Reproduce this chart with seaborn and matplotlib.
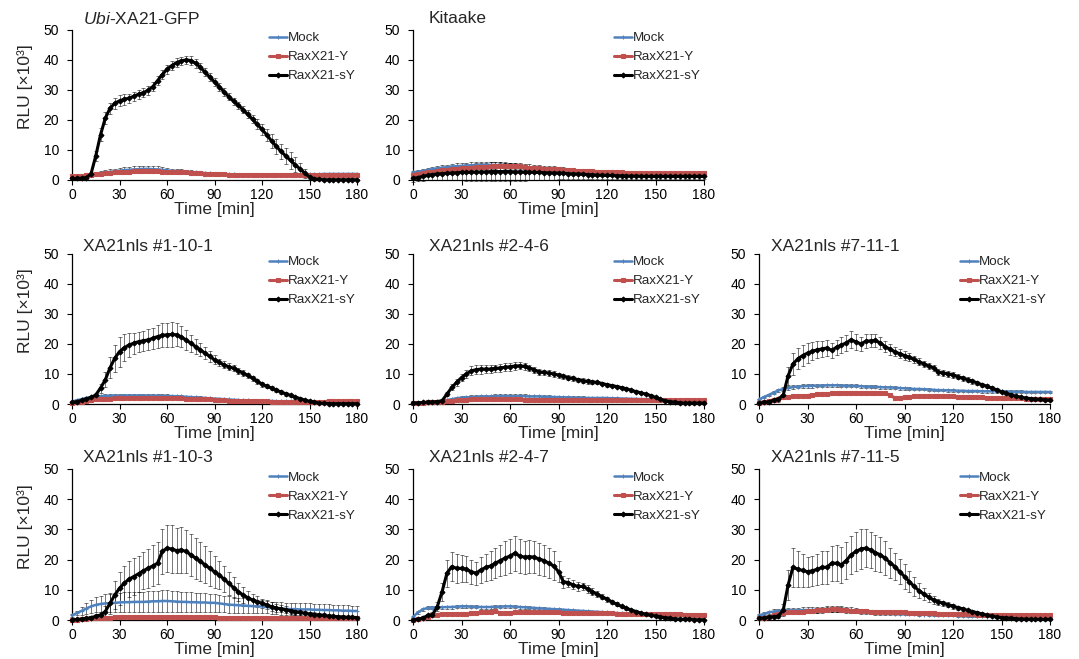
"""
ROS burst time courses (RaxX21 peptides) - 8 small panels in a 3x3 grid
"""

import numpy as np
import pandas as pd
import matplotlib
matplotlib.use('Agg')
import matplotlib.pyplot as plt
import seaborn as sns

# time points [min], one reading every 3 min
minutes = [0, 3, 6, 9, 12, 15, 18, 21, 24, 27,
           30, 33, 36, 39, 42, 45, 48, 51, 54, 57,
           60, 63, 66, 69, 72, 75, 78, 81, 84, 87,
           90, 93, 96, 99, 102, 105, 108, 111, 114, 117,
           120, 123, 126, 129, 132, 135, 138, 141, 144, 147,
           150, 153, 156, 159, 162, 165, 168, 171, 174, 177,
           180]

series_names = ['Mock', 'RaxX21-Y', 'RaxX21-sY']
panel_titles = [r'$\mathit{Ubi}$-XA21-GFP', 'Kitaake',
                'XA21nls #1-10-1', 'XA21nls #2-4-6', 'XA21nls #7-11-1',
                'XA21nls #1-10-3', 'XA21nls #2-4-7', 'XA21nls #7-11-5']

# ---- Ubi-XA21-GFP ----
ubi_mock = [1.0, 1.1, 1.2, 1.3, 1.6, 2.0, 2.3, 2.5, 2.7, 2.9,
            3.1, 3.3, 3.4, 3.5, 3.6, 3.7, 3.7, 3.6, 3.5, 3.4,
            3.2, 3.0, 2.9, 2.8, 2.7, 2.6, 2.5, 2.4, 2.3, 2.2,
            2.1, 2.0, 2.0, 1.9, 1.9, 1.8, 1.8, 1.8, 1.7, 1.7,
            1.7, 1.7, 1.7, 1.7, 1.8, 1.8, 1.8, 1.8, 1.8, 1.9,
            1.9, 1.9, 1.9, 2.0, 2.0, 2.0, 2.0, 2.0, 2.0, 2.0,
            2.0]
ubi_mock_err = [0.3, 0.3, 0.3, 0.4, 0.5, 0.6, 0.7, 0.8, 0.8, 0.9,
                0.9, 1.0, 1.0, 1.0, 1.0, 1.0, 1.0, 1.0, 1.0, 0.9,
                0.9, 0.8, 0.8, 0.7, 0.7, 0.6, 0.6, 0.5, 0.5, 0.5,
                0.4, 0.4, 0.4, 0.4, 0.3, 0.3, 0.3, 0.3, 0.3, 0.3,
                0.3, 0.3, 0.3, 0.3, 0.3, 0.3, 0.3, 0.3, 0.3, 0.3,
                0.3, 0.3, 0.3, 0.3, 0.3, 0.3, 0.3, 0.3, 0.3, 0.3,
                0.3]
ubi_y = [1.2, 1.2, 1.3, 1.5, 1.8, 2.0, 2.1, 2.2, 2.3, 2.5,
         2.6, 2.7, 2.8, 2.9, 3.0, 3.0, 3.0, 3.0, 2.9, 2.8,
         2.7, 2.6, 2.6, 2.5, 2.5, 2.4, 2.3, 2.2, 2.1, 2.0,
         2.0, 1.9, 1.9, 1.8, 1.8, 1.8, 1.7, 1.7, 1.7, 1.7,
         1.7, 1.6, 1.6, 1.6, 1.6, 1.7, 1.7, 1.7, 1.7, 1.7,
         1.8, 1.8, 1.8, 1.8, 1.8, 1.8, 1.8, 1.8, 1.8, 1.8,
         1.8]
ubi_y_err = [0.3, 0.3, 0.3, 0.4, 0.4, 0.5, 0.5, 0.6, 0.6, 0.6,
             0.7, 0.7, 0.7, 0.7, 0.7, 0.7, 0.7, 0.7, 0.7, 0.6,
             0.6, 0.6, 0.6, 0.5, 0.5, 0.5, 0.5, 0.4, 0.4, 0.4,
             0.4, 0.4, 0.3, 0.3, 0.3, 0.3, 0.3, 0.3, 0.3, 0.3,
             0.3, 0.3, 0.3, 0.3, 0.3, 0.3, 0.3, 0.3, 0.3, 0.3,
             0.3, 0.3, 0.3, 0.3, 0.3, 0.3, 0.3, 0.3, 0.3, 0.3,
             0.3]
ubi_sy = [0.5, 0.5, 0.6, 0.8, 2.0, 8.0, 15.0, 20.5, 23.8, 25.5,
          26.3, 26.8, 27.2, 27.8, 28.5, 29.0, 29.8, 31.0, 33.0, 35.0,
          36.8, 38.0, 39.0, 39.6, 39.9, 39.7, 38.8, 37.5, 35.8, 34.2,
          32.6, 31.0, 29.3, 27.7, 26.2, 24.8, 23.4, 21.8, 20.2, 18.5,
          16.8, 15.0, 13.0, 11.2, 9.5, 8.0, 6.5, 5.0, 3.7, 2.3,
          1.0, 0.4, 0.2, 0.1, 0.1, 0.1, 0.1, 0.1, 0.1, 0.1,
          0.1]
ubi_sy_err = [0.2, 0.2, 0.2, 0.3, 0.8, 1.8, 2.2, 2.0, 1.8, 1.8,
              1.8, 1.8, 1.5, 1.5, 1.5, 1.4, 1.4, 1.4, 1.4, 1.5,
              1.5, 1.5, 1.5, 1.4, 1.4, 1.5, 1.5, 1.5, 1.4, 1.4,
              1.3, 1.3, 1.3, 1.2, 1.2, 1.2, 1.2, 1.3, 1.4, 1.6,
              1.8, 2.0, 2.3, 2.5, 2.6, 2.7, 2.7, 2.5, 2.0, 1.5,
              0.8, 0.4, 0.2, 0.2, 0.2, 0.2, 0.2, 0.2, 0.2, 0.2,
              0.2]

# ---- Kitaake ----
kit_mock = [2.5, 2.8, 3.0, 3.3, 3.6, 3.9, 4.1, 4.3, 4.5, 4.6,
            4.7, 4.8, 4.9, 5.0, 5.0, 5.0, 5.0, 5.0, 4.9, 4.8,
            4.6, 4.4, 4.2, 4.0, 3.9, 3.8, 3.6, 3.5, 3.4, 3.3,
            3.2, 3.1, 3.0, 2.9, 2.8, 2.8, 2.7, 2.7, 2.6, 2.6,
            2.5, 2.5, 2.4, 2.4, 2.3, 2.3, 2.2, 2.2, 2.2, 2.1,
            2.1, 2.1, 2.0, 2.0, 2.0, 2.0, 2.0, 2.0, 2.0, 2.0,
            2.0]
kit_mock_err = [0.5, 0.6, 0.6, 0.7, 0.7, 0.8, 0.8, 0.8, 0.9, 0.9,
                0.9, 0.9, 1.0, 1.0, 1.0, 1.0, 1.0, 1.0, 1.0, 1.0,
                0.9, 0.9, 0.9, 0.8, 0.8, 0.8, 0.7, 0.7, 0.7, 0.6,
                0.6, 0.6, 0.6, 0.5, 0.5, 0.5, 0.5, 0.5, 0.5, 0.5,
                0.5, 0.5, 0.5, 0.5, 0.5, 0.5, 0.4, 0.4, 0.4, 0.4,
                0.4, 0.4, 0.4, 0.4, 0.4, 0.4, 0.4, 0.4, 0.4, 0.4,
                0.4]
kit_y = [1.8, 2.0, 2.3, 2.6, 2.8, 3.0, 3.2, 3.4, 3.6, 3.8,
         3.9, 4.0, 4.1, 4.2, 4.3, 4.4, 4.5, 4.6, 4.7, 4.8,
         4.8, 4.7, 4.5, 4.3, 4.1, 4.0, 3.9, 3.8, 3.7, 3.6,
         3.5, 3.4, 3.3, 3.2, 3.1, 3.0, 2.9, 2.9, 2.8, 2.8,
         2.7, 2.7, 2.6, 2.5, 2.4, 2.3, 2.3, 2.2, 2.2, 2.2,
         2.2, 2.2, 2.2, 2.2, 2.2, 2.2, 2.2, 2.3, 2.3, 2.3,
         2.3]
kit_y_err = [0.4, 0.4, 0.5, 0.5, 0.5, 0.6, 0.6, 0.6, 0.6, 0.7,
             0.7, 0.7, 0.7, 0.8, 0.8, 0.8, 0.8, 0.8, 0.8, 0.8,
             0.8, 0.8, 0.7, 0.7, 0.7, 0.7, 0.6, 0.6, 0.6, 0.6,
             0.5, 0.5, 0.5, 0.5, 0.5, 0.5, 0.4, 0.4, 0.4, 0.4,
             0.4, 0.4, 0.4, 0.4, 0.4, 0.4, 0.4, 0.4, 0.4, 0.4,
             0.4, 0.4, 0.4, 0.4, 0.4, 0.4, 0.4, 0.4, 0.4, 0.4,
             0.4]
kit_sy = [0.5, 0.8, 1.2, 1.5, 1.8, 2.0, 2.1, 2.2, 2.3, 2.4,
          2.5, 2.5, 2.6, 2.6, 2.7, 2.7, 2.8, 2.8, 2.8, 2.8,
          2.8, 2.7, 2.7, 2.6, 2.6, 2.5, 2.5, 2.4, 2.4, 2.3,
          2.3, 2.2, 2.1, 2.0, 2.0, 1.9, 1.8, 1.7, 1.6, 1.6,
          1.5, 1.5, 1.4, 1.4, 1.3, 1.3, 1.3, 1.2, 1.2, 1.2,
          1.2, 1.2, 1.2, 1.2, 1.2, 1.2, 1.2, 1.2, 1.2, 1.2,
          1.2]
kit_sy_err = [1.0, 1.2, 1.4, 1.6, 1.8, 2.0, 2.1, 2.2, 2.4, 2.5,
              2.6, 2.7, 2.8, 2.9, 3.0, 3.0, 3.1, 3.1, 3.1, 3.1,
              3.0, 3.0, 2.9, 2.8, 2.7, 2.6, 2.5, 2.4, 2.3, 2.2,
              2.1, 2.0, 1.9, 1.8, 1.7, 1.6, 1.5, 1.4, 1.3, 1.3,
              1.2, 1.2, 1.1, 1.1, 1.0, 1.0, 1.0, 1.0, 1.0, 1.0,
              1.0, 1.0, 1.0, 1.0, 1.0, 1.0, 1.0, 1.0, 1.0, 1.0,
              1.0]

# ---- XA21nls #1-10-1 ----
l101_mock = [0.8, 1.2, 1.6, 2.0, 2.3, 2.5, 2.6, 2.7, 2.7, 2.8,
             2.8, 2.8, 2.8, 2.8, 2.8, 2.8, 2.8, 2.8, 2.7, 2.7,
             2.7, 2.6, 2.6, 2.5, 2.4, 2.3, 2.2, 2.1, 2.0, 1.9,
             1.8, 1.7, 1.6, 1.5, 1.4, 1.3, 1.2, 1.2, 1.1, 1.1,
             1.0, 1.0, 1.0, 0.9, 0.9, 0.9, 0.9, 0.8, 0.8, 0.8,
             0.8, 0.8, 0.8, 0.8, 0.8, 0.8, 0.8, 0.8, 0.8, 0.8,
             0.8]
l101_mock_err = [0.2, 0.3, 0.3, 0.4, 0.4, 0.5, 0.5, 0.5, 0.5, 0.6,
                 0.6, 0.6, 0.6, 0.6, 0.6, 0.6, 0.6, 0.6, 0.6, 0.5,
                 0.5, 0.5, 0.5, 0.5, 0.4, 0.4, 0.4, 0.4, 0.4, 0.3,
                 0.3, 0.3, 0.3, 0.3, 0.3, 0.3, 0.3, 0.2, 0.2, 0.2,
                 0.2, 0.2, 0.2, 0.2, 0.2, 0.2, 0.2, 0.2, 0.2, 0.2,
                 0.2, 0.2, 0.2, 0.2, 0.2, 0.2, 0.2, 0.2, 0.2, 0.2,
                 0.2]
l101_y = [0.3, 0.5, 0.8, 1.1, 1.3, 1.5, 1.6, 1.7, 1.8, 1.9,
          1.9, 2.0, 2.0, 2.0, 2.0, 2.0, 2.0, 2.0, 2.0, 2.0,
          2.0, 1.9, 1.9, 1.9, 1.8, 1.8, 1.7, 1.7, 1.6, 1.5,
          1.4, 1.3, 1.2, 1.1, 1.1, 1.0, 1.0, 1.0, 0.9, 0.9,
          0.9, 0.9, 0.8, 0.8, 0.8, 0.8, 0.8, 0.8, 0.8, 0.8,
          0.8, 0.8, 0.8, 0.8, 0.9, 0.9, 0.9, 0.9, 0.9, 0.9,
          0.9]
l101_y_err = [0.1, 0.2, 0.2, 0.3, 0.3, 0.4, 0.4, 0.4, 0.4, 0.4,
              0.4, 0.4, 0.4, 0.4, 0.4, 0.4, 0.4, 0.4, 0.4, 0.4,
              0.4, 0.4, 0.4, 0.4, 0.3, 0.3, 0.3, 0.3, 0.3, 0.3,
              0.3, 0.3, 0.2, 0.2, 0.2, 0.2, 0.2, 0.2, 0.2, 0.2,
              0.2, 0.2, 0.2, 0.2, 0.2, 0.2, 0.2, 0.2, 0.2, 0.2,
              0.2, 0.2, 0.2, 0.2, 0.2, 0.2, 0.2, 0.2, 0.2, 0.2,
              0.2]
l101_sy = [0.5, 0.8, 1.2, 1.7, 2.2, 3.0, 5.3, 8.0, 12.0, 15.2,
           17.4, 18.7, 19.6, 20.2, 20.7, 21.0, 21.3, 21.8, 22.4, 22.8,
           23.0, 23.1, 23.0, 22.3, 21.3, 20.2, 19.1, 18.0, 16.9, 15.8,
           14.7, 13.8, 13.0, 12.4, 11.9, 11.1, 10.3, 9.5, 8.6, 7.6,
           6.6, 5.9, 5.3, 4.6, 4.0, 3.4, 2.9, 2.3, 1.8, 1.3,
           0.9, 0.6, 0.3, 0.2, 0.1, 0.1, 0.1, 0.1, 0.1, 0.1,
           0.1]
l101_sy_err = [0.3, 0.3, 0.4, 0.5, 0.6, 0.8, 1.5, 2.5, 3.5, 4.5,
               5.0, 4.5, 4.0, 3.5, 3.3, 3.3, 3.5, 3.6, 3.8, 4.0,
               4.0, 4.0, 3.8, 3.5, 3.2, 2.8, 2.5, 2.2, 1.9, 1.7,
               1.5, 1.3, 1.2, 1.1, 1.0, 1.0, 0.9, 0.9, 0.8, 0.8,
               0.8, 0.7, 0.7, 0.7, 0.6, 0.6, 0.5, 0.5, 0.4, 0.4,
               0.3, 0.3, 0.2, 0.2, 0.2, 0.2, 0.2, 0.2, 0.2, 0.2,
               0.2]

# ---- XA21nls #2-4-6 ----
l246_mock = [0.3, 0.4, 0.5, 0.6, 0.7, 0.8, 1.0, 1.3, 1.6, 1.9,
             2.1, 2.2, 2.3, 2.4, 2.5, 2.5, 2.5, 2.6, 2.6, 2.6,
             2.6, 2.6, 2.6, 2.6, 2.5, 2.5, 2.5, 2.4, 2.4, 2.3,
             2.3, 2.2, 2.2, 2.1, 2.1, 2.1, 2.0, 2.0, 2.0, 2.0,
             2.0, 1.9, 1.9, 1.8, 1.8, 1.7, 1.7, 1.6, 1.6, 1.5,
             1.5, 1.4, 1.3, 1.2, 1.2, 1.1, 1.1, 1.0, 1.0, 1.0,
             1.0]
l246_mock_err = [0.1, 0.1, 0.2, 0.2, 0.2, 0.3, 0.3, 0.4, 0.4, 0.5,
                 0.5, 0.5, 0.6, 0.6, 0.6, 0.6, 0.6, 0.6, 0.6, 0.6,
                 0.6, 0.6, 0.6, 0.6, 0.5, 0.5, 0.5, 0.5, 0.5, 0.5,
                 0.5, 0.4, 0.4, 0.4, 0.4, 0.4, 0.4, 0.4, 0.4, 0.4,
                 0.4, 0.3, 0.3, 0.3, 0.3, 0.3, 0.3, 0.3, 0.3, 0.3,
                 0.3, 0.3, 0.3, 0.2, 0.2, 0.2, 0.2, 0.2, 0.2, 0.2,
                 0.2]
l246_y = [0.2, 0.3, 0.4, 0.5, 0.6, 0.7, 0.8, 0.9, 1.0, 1.2,
          1.3, 1.4, 1.5, 1.5, 1.5, 1.5, 1.5, 1.5, 1.5, 1.5,
          1.5, 1.5, 1.5, 1.4, 1.4, 1.4, 1.4, 1.3, 1.3, 1.3,
          1.3, 1.3, 1.3, 1.3, 1.3, 1.3, 1.3, 1.3, 1.3, 1.3,
          1.3, 1.3, 1.3, 1.3, 1.3, 1.2, 1.2, 1.2, 1.2, 1.2,
          1.2, 1.2, 1.2, 1.2, 1.2, 1.2, 1.2, 1.2, 1.2, 1.2,
          1.2]
l246_y_err = [0.1, 0.1, 0.1, 0.2, 0.2, 0.2, 0.3, 0.3, 0.3, 0.4,
              0.4, 0.4, 0.5, 0.5, 0.5, 0.5, 0.5, 0.5, 0.5, 0.5,
              0.5, 0.5, 0.5, 0.4, 0.4, 0.4, 0.4, 0.4, 0.4, 0.4,
              0.4, 0.4, 0.4, 0.3, 0.3, 0.3, 0.3, 0.3, 0.3, 0.3,
              0.3, 0.3, 0.3, 0.3, 0.3, 0.3, 0.3, 0.3, 0.3, 0.3,
              0.3, 0.3, 0.3, 0.3, 0.3, 0.3, 0.3, 0.3, 0.3, 0.3,
              0.3]
l246_sy = [0.3, 0.4, 0.5, 0.6, 0.7, 0.8, 1.1, 3.3, 5.5, 7.2,
           8.8, 10.0, 11.0, 11.4, 11.6, 11.6, 11.6, 11.8, 12.0, 12.2,
           12.4, 12.6, 12.7, 12.5, 12.0, 11.4, 10.7, 10.5, 10.3, 10.0,
           9.6, 9.2, 8.8, 8.5, 8.1, 7.8, 7.5, 7.3, 7.2, 6.8,
           6.4, 6.1, 5.8, 5.4, 5.0, 4.6, 4.1, 3.7, 3.3, 2.8,
           2.2, 1.6, 1.1, 0.8, 0.6, 0.4, 0.3, 0.3, 0.3, 0.3,
           0.3]
l246_sy_err = [0.2, 0.2, 0.2, 0.2, 0.2, 0.2, 0.4, 0.8, 1.0, 1.2,
               1.3, 1.4, 1.5, 1.5, 1.5, 1.4, 1.3, 1.3, 1.3, 1.3,
               1.3, 1.2, 1.2, 1.1, 1.0, 1.0, 0.9, 0.9, 0.9, 0.9,
               0.8, 0.8, 0.8, 0.7, 0.7, 0.7, 0.7, 0.6, 0.6, 0.6,
               0.6, 0.6, 0.5, 0.5, 0.5, 0.5, 0.5, 0.4, 0.4, 0.4,
               0.3, 0.3, 0.3, 0.2, 0.2, 0.2, 0.2, 0.2, 0.2, 0.2,
               0.2]

# ---- XA21nls #7-11-1 ----
l711_mock = [1.5, 2.3, 3.0, 3.8, 4.5, 5.0, 5.3, 5.6, 5.8, 5.9,
             6.0, 6.0, 6.1, 6.1, 6.2, 6.2, 6.2, 6.1, 6.1, 6.0,
             6.0, 5.9, 5.8, 5.8, 5.7, 5.6, 5.5, 5.5, 5.4, 5.3,
             5.2, 5.1, 5.0, 5.0, 4.9, 4.8, 4.7, 4.6, 4.6, 4.5,
             4.5, 4.4, 4.4, 4.3, 4.3, 4.3, 4.2, 4.2, 4.2, 4.2,
             4.2, 4.1, 4.1, 4.1, 4.1, 4.0, 4.0, 4.0, 4.0, 4.0,
             4.0]
l711_mock_err = [0.3, 0.4, 0.4, 0.5, 0.5, 0.6, 0.6, 0.6, 0.6, 0.6,
                 0.6, 0.6, 0.6, 0.6, 0.6, 0.6, 0.6, 0.5, 0.5, 0.5,
                 0.5, 0.5, 0.5, 0.5, 0.5, 0.5, 0.5, 0.5, 0.5, 0.5,
                 0.4, 0.4, 0.4, 0.4, 0.4, 0.4, 0.4, 0.4, 0.4, 0.4,
                 0.4, 0.4, 0.4, 0.4, 0.4, 0.4, 0.4, 0.4, 0.4, 0.4,
                 0.4, 0.4, 0.4, 0.4, 0.4, 0.4, 0.4, 0.4, 0.4, 0.4,
                 0.4]
l711_y = [0.3, 0.6, 1.0, 1.4, 1.8, 2.2, 2.4, 2.6, 2.7, 2.8,
          2.8, 3.0, 3.2, 3.3, 3.4, 3.5, 3.6, 3.6, 3.7, 3.7,
          3.7, 3.7, 3.7, 3.7, 3.6, 3.6, 3.5, 3.0, 2.0, 2.0,
          2.3, 2.4, 2.5, 2.6, 2.6, 2.6, 2.5, 2.5, 2.5, 2.5,
          2.5, 2.4, 2.4, 2.3, 2.3, 2.2, 2.2, 2.1, 2.1, 2.0,
          2.0, 2.0, 1.9, 1.9, 1.9, 1.8, 1.8, 1.8, 1.8, 1.8,
          1.8]
l711_y_err = [0.1, 0.2, 0.2, 0.3, 0.3, 0.3, 0.3, 0.4, 0.4, 0.4,
              0.4, 0.4, 0.4, 0.4, 0.4, 0.4, 0.4, 0.4, 0.4, 0.4,
              0.4, 0.4, 0.4, 0.4, 0.4, 0.4, 0.4, 0.4, 0.3, 0.3,
              0.3, 0.3, 0.3, 0.3, 0.3, 0.3, 0.3, 0.3, 0.3, 0.3,
              0.3, 0.3, 0.3, 0.3, 0.3, 0.3, 0.3, 0.3, 0.3, 0.3,
              0.3, 0.3, 0.3, 0.3, 0.3, 0.3, 0.3, 0.3, 0.3, 0.3,
              0.3]
l711_sy = [0.3, 0.5, 0.8, 1.2, 1.6, 3.0, 9.4, 13.3, 15.0, 16.1,
           16.9, 17.5, 18.0, 18.3, 18.6, 17.8, 18.9, 19.6, 20.3, 21.4,
           20.6, 20.0, 20.8, 21.0, 21.1, 20.3, 19.1, 18.2, 17.4, 16.7,
           16.1, 15.5, 14.8, 14.0, 13.3, 12.6, 12.0, 10.6, 10.3, 10.0,
           9.7, 9.1, 8.6, 8.1, 7.6, 7.0, 6.4, 5.9, 5.3, 4.7,
           4.1, 3.5, 3.0, 2.6, 2.3, 2.0, 1.8, 1.6, 1.5, 1.4,
           1.3]
l711_sy_err = [0.3, 0.4, 0.5, 0.6, 0.8, 1.5, 3.0, 3.5, 3.5, 3.5,
               3.3, 3.0, 2.8, 2.6, 2.5, 2.5, 2.5, 2.6, 2.7, 2.8,
               2.6, 2.4, 2.3, 2.2, 2.1, 2.0, 1.9, 1.8, 1.6, 1.5,
               1.4, 1.3, 1.2, 1.2, 1.1, 1.1, 1.0, 1.0, 1.0, 0.9,
               0.9, 0.9, 0.8, 0.8, 0.8, 0.7, 0.7, 0.7, 0.6, 0.6,
               0.5, 0.5, 0.5, 0.4, 0.4, 0.4, 0.4, 0.3, 0.3, 0.3,
               0.3]

# ---- XA21nls #1-10-3 ----
l103_mock = [1.5, 2.3, 3.0, 3.8, 4.5, 5.0, 5.3, 5.5, 5.6, 5.7,
             5.8, 5.9, 5.9, 6.0, 6.0, 6.0, 6.1, 6.2, 6.2, 6.3,
             6.3, 6.2, 6.1, 6.0, 6.0, 5.9, 5.9, 5.8, 5.8, 5.7,
             5.7, 5.5, 5.3, 5.1, 5.0, 4.9, 4.8, 4.7, 4.6, 4.5,
             4.5, 4.3, 4.1, 3.9, 3.8, 3.7, 3.6, 3.6, 3.5, 3.5,
             3.5, 3.4, 3.4, 3.3, 3.3, 3.2, 3.2, 3.1, 3.1, 3.0,
             3.0]
l103_mock_err = [0.5, 0.8, 1.2, 1.8, 2.2, 2.5, 2.8, 3.0, 3.0, 3.1,
                 3.2, 3.3, 3.3, 3.4, 3.4, 3.4, 3.5, 3.5, 3.5, 3.5,
                 3.5, 3.5, 3.4, 3.4, 3.3, 3.3, 3.2, 3.2, 3.1, 3.0,
                 3.0, 2.9, 2.8, 2.7, 2.6, 2.5, 2.4, 2.3, 2.2, 2.2,
                 2.1, 2.1, 2.0, 2.0, 2.0, 2.0, 2.0, 2.0, 2.0, 2.0,
                 2.0, 2.0, 2.0, 2.0, 2.0, 1.9, 1.9, 1.9, 1.9, 1.8,
                 1.8]
l103_y = [0.0, 0.1, 0.2, 0.3, 0.5, 0.6, 0.7, 0.8, 0.8, 0.9,
          0.9, 1.0, 1.0, 1.0, 1.0, 1.0, 1.0, 1.0, 1.0, 1.0,
          1.0, 1.0, 1.0, 1.0, 1.0, 0.9, 0.9, 0.9, 0.9, 0.9,
          0.9, 0.8, 0.8, 0.8, 0.8, 0.8, 0.7, 0.7, 0.7, 0.7,
          0.7, 0.7, 0.7, 0.6, 0.6, 0.6, 0.6, 0.6, 0.6, 0.6,
          0.6, 0.6, 0.6, 0.5, 0.5, 0.5, 0.5, 0.5, 0.5, 0.5,
          0.5]
l103_y_err = [0.1, 0.1, 0.1, 0.2, 0.2, 0.3, 0.3, 0.3, 0.4, 0.4,
              0.4, 0.4, 0.4, 0.4, 0.4, 0.4, 0.4, 0.4, 0.4, 0.4,
              0.4, 0.4, 0.4, 0.4, 0.4, 0.4, 0.4, 0.4, 0.4, 0.3,
              0.3, 0.3, 0.3, 0.3, 0.3, 0.3, 0.3, 0.3, 0.3, 0.3,
              0.3, 0.3, 0.3, 0.3, 0.2, 0.2, 0.2, 0.2, 0.2, 0.2,
              0.2, 0.2, 0.2, 0.2, 0.2, 0.2, 0.2, 0.2, 0.2, 0.2,
              0.2]
l103_sy = [0.0, 0.2, 0.3, 0.5, 0.8, 1.2, 1.7, 2.8, 5.5, 8.3,
           10.5, 12.2, 13.5, 14.4, 15.3, 16.3, 17.1, 17.9, 18.8, 22.7,
           23.8, 23.5, 23.0, 23.2, 22.7, 21.6, 20.5, 19.4, 18.3, 17.1,
           16.0, 14.9, 13.5, 12.2, 10.7, 9.4, 8.3, 7.4, 6.6, 6.1,
           5.5, 5.0, 4.4, 4.0, 3.7, 3.4, 3.1, 2.8, 2.5, 2.2,
           2.0, 1.8, 1.7, 1.5, 1.3, 1.2, 1.1, 1.0, 0.9, 0.9,
           0.8]
l103_sy_err = [0.1, 0.2, 0.3, 0.4, 0.5, 0.7, 1.0, 2.0, 3.5, 4.5,
               5.5, 5.8, 6.0, 6.0, 6.0, 6.2, 6.5, 6.8, 7.0, 7.5,
               7.8, 7.8, 7.5, 7.5, 7.2, 7.0, 6.8, 6.5, 6.2, 5.8,
               5.3, 4.8, 4.3, 3.8, 3.5, 3.0, 2.6, 2.3, 2.0, 1.8,
               1.6, 1.5, 1.4, 1.3, 1.2, 1.1, 1.0, 1.0, 0.9, 0.9,
               0.8, 0.8, 0.7, 0.7, 0.7, 0.6, 0.6, 0.6, 0.5, 0.5,
               0.5]

# ---- XA21nls #2-4-7 ----
l247_mock = [1.0, 2.5, 3.5, 4.0, 4.1, 4.2, 4.2, 4.3, 4.3, 4.4,
             4.5, 4.5, 4.4, 4.4, 4.3, 4.3, 4.3, 4.4, 4.4, 4.5,
             4.5, 4.4, 4.3, 4.2, 4.1, 4.0, 3.9, 3.8, 3.7, 3.6,
             3.5, 3.4, 3.3, 3.2, 3.1, 3.0, 2.9, 2.8, 2.7, 2.6,
             2.5, 2.4, 2.3, 2.2, 2.1, 2.0, 2.0, 1.9, 1.9, 1.8,
             1.8, 1.7, 1.7, 1.7, 1.6, 1.6, 1.6, 1.5, 1.5, 1.5,
             1.5]
l247_mock_err = [0.3, 0.4, 0.5, 0.5, 0.5, 0.5, 0.5, 0.5, 0.5, 0.5,
                 0.5, 0.5, 0.5, 0.5, 0.5, 0.5, 0.5, 0.5, 0.5, 0.5,
                 0.5, 0.5, 0.5, 0.5, 0.4, 0.4, 0.4, 0.4, 0.4, 0.4,
                 0.4, 0.4, 0.4, 0.3, 0.3, 0.3, 0.3, 0.3, 0.3, 0.3,
                 0.3, 0.3, 0.3, 0.3, 0.3, 0.3, 0.3, 0.3, 0.3, 0.3,
                 0.3, 0.3, 0.3, 0.3, 0.3, 0.3, 0.3, 0.3, 0.3, 0.3,
                 0.3]
l247_y = [0.0, 0.2, 0.5, 1.0, 1.5, 1.8, 2.0, 2.0, 2.0, 2.0,
          2.0, 2.1, 2.2, 2.4, 2.5, 2.6, 2.8, 3.0, 2.3, 2.3,
          2.4, 2.5, 2.5, 2.5, 2.5, 2.5, 2.5, 2.5, 2.5, 2.5,
          2.5, 2.4, 2.4, 2.4, 2.3, 2.3, 2.3, 2.3, 2.2, 2.2,
          2.2, 2.2, 2.1, 2.1, 2.1, 2.0, 2.0, 2.0, 2.0, 2.0,
          2.0, 1.9, 1.9, 1.9, 1.9, 1.9, 1.8, 1.8, 1.8, 1.8,
          1.8]
l247_y_err = [0.1, 0.1, 0.2, 0.3, 0.4, 0.4, 0.5, 0.5, 0.5, 0.5,
              0.5, 0.5, 0.5, 0.5, 0.6, 0.6, 0.6, 0.6, 0.5, 0.5,
              0.5, 0.5, 0.5, 0.5, 0.5, 0.5, 0.4, 0.4, 0.4, 0.4,
              0.4, 0.4, 0.4, 0.4, 0.4, 0.3, 0.3, 0.3, 0.3, 0.3,
              0.3, 0.3, 0.3, 0.3, 0.3, 0.3, 0.3, 0.3, 0.3, 0.3,
              0.3, 0.3, 0.3, 0.3, 0.3, 0.3, 0.3, 0.3, 0.3, 0.3,
              0.3]
l247_sy = [0.0, 0.3, 0.6, 1.5, 1.7, 4.4, 9.4, 15.5, 17.7, 17.1,
           17.1, 16.8, 16.0, 15.5, 16.6, 17.4, 17.9, 18.8, 19.7, 20.5,
           21.2, 22.1, 21.2, 20.8, 21.0, 20.8, 20.2, 19.7, 18.8, 17.9,
           16.0, 12.7, 12.4, 11.6, 11.1, 11.1, 10.3, 9.4, 8.5, 7.7,
           6.9, 6.0, 5.2, 4.5, 3.9, 3.3, 2.8, 2.3, 1.9, 1.6,
           1.3, 1.0, 0.8, 0.6, 0.4, 0.3, 0.2, 0.2, 0.1, 0.1,
           0.1]
l247_sy_err = [0.1, 0.2, 0.3, 0.5, 0.8, 1.5, 3.0, 4.5, 4.8, 4.8,
               4.5, 4.3, 4.0, 3.8, 4.2, 4.5, 4.8, 5.0, 5.2, 5.5,
               5.6, 5.8, 5.6, 5.5, 5.5, 5.4, 5.3, 5.2, 5.0, 4.8,
               3.5, 2.0, 1.6, 1.5, 1.4, 1.3, 1.2, 1.1, 1.0, 0.9,
               0.8, 0.7, 0.6, 0.6, 0.5, 0.5, 0.4, 0.4, 0.4, 0.3,
               0.3, 0.3, 0.3, 0.2, 0.2, 0.2, 0.2, 0.2, 0.2, 0.2,
               0.2]

# ---- XA21nls #7-11-5 ----
l715_mock = [1.5, 2.0, 2.5, 2.8, 3.0, 3.1, 3.2, 3.2, 3.2, 3.3,
             3.3, 3.3, 3.4, 3.4, 3.5, 3.5, 3.5, 3.5, 3.4, 3.3,
             3.1, 2.9, 2.7, 2.6, 2.5, 2.4, 2.3, 2.2, 2.1, 2.0,
             2.0, 1.9, 1.9, 1.8, 1.8, 1.7, 1.7, 1.6, 1.6, 1.5,
             1.5, 1.4, 1.4, 1.3, 1.3, 1.2, 1.2, 1.1, 1.1, 1.0,
             1.0, 1.0, 0.9, 0.9, 0.9, 0.9, 0.8, 0.8, 0.8, 0.8,
             0.8]
l715_mock_err = [0.4, 0.5, 0.6, 0.7, 0.8, 0.8, 0.9, 0.9, 0.9, 1.0,
                 1.0, 1.0, 1.0, 1.0, 1.0, 1.0, 1.0, 1.0, 1.0, 0.9,
                 0.9, 0.8, 0.8, 0.7, 0.7, 0.6, 0.6, 0.5, 0.5, 0.5,
                 0.4, 0.4, 0.4, 0.4, 0.3, 0.3, 0.3, 0.3, 0.3, 0.3,
                 0.3, 0.3, 0.3, 0.3, 0.3, 0.3, 0.2, 0.2, 0.2, 0.2,
                 0.2, 0.2, 0.2, 0.2, 0.2, 0.2, 0.2, 0.2, 0.2, 0.2,
                 0.2]
l715_y = [0.5, 0.7, 1.0, 1.5, 2.0, 2.2, 2.5, 2.6, 2.7, 2.8,
          3.0, 3.1, 3.2, 3.3, 3.4, 3.5, 3.5, 3.4, 3.2, 3.1,
          3.0, 2.9, 2.9, 2.8, 2.8, 2.7, 2.7, 2.6, 2.6, 2.5,
          2.5, 2.4, 2.4, 2.3, 2.3, 2.2, 2.2, 2.1, 2.1, 2.0,
          2.0, 2.0, 1.9, 1.9, 1.9, 1.8, 1.8, 1.8, 1.7, 1.7,
          1.7, 1.7, 1.6, 1.6, 1.6, 1.6, 1.5, 1.5, 1.5, 1.5,
          1.5]
l715_y_err = [0.2, 0.2, 0.3, 0.4, 0.5, 0.5, 0.6, 0.6, 0.6, 0.7,
              0.7, 0.7, 0.8, 0.8, 0.8, 0.8, 0.8, 0.8, 0.7, 0.7,
              0.7, 0.6, 0.6, 0.6, 0.6, 0.5, 0.5, 0.5, 0.5, 0.5,
              0.4, 0.4, 0.4, 0.4, 0.4, 0.4, 0.4, 0.3, 0.3, 0.3,
              0.3, 0.3, 0.3, 0.3, 0.3, 0.3, 0.3, 0.3, 0.3, 0.3,
              0.3, 0.3, 0.3, 0.3, 0.3, 0.3, 0.3, 0.3, 0.3, 0.3,
              0.3]
l715_sy = [0.5, 0.7, 1.0, 1.1, 1.3, 3.3, 11.6, 17.5, 16.8, 16.4,
           16.0, 16.3, 16.8, 17.4, 17.5, 18.8, 18.8, 18.3, 19.7, 21.6,
           22.7, 23.5, 23.8, 23.2, 22.3, 21.6, 20.5, 19.0, 17.7, 16.0,
           14.4, 12.7, 11.1, 9.7, 8.6, 7.5, 6.6, 6.1, 5.5, 5.1,
           4.6, 4.1, 3.7, 3.2, 2.8, 2.4, 2.0, 1.6, 1.3, 1.0,
           0.8, 0.7, 0.6, 0.4, 0.3, 0.3, 0.2, 0.2, 0.2, 0.2,
           0.2]
l715_sy_err = [0.2, 0.3, 0.4, 0.5, 0.8, 2.0, 5.0, 6.5, 6.0, 5.5,
               5.0, 5.0, 5.2, 5.4, 5.5, 5.8, 6.0, 6.0, 6.2, 6.3,
               6.5, 6.5, 6.3, 6.0, 6.0, 5.8, 5.5, 5.0, 4.5, 4.2,
               4.0, 3.5, 3.0, 2.5, 2.0, 1.5, 1.2, 1.0, 0.9, 0.8,
               0.8, 0.7, 0.7, 0.6, 0.6, 0.5, 0.5, 0.5, 0.4, 0.4,
               0.3, 0.3, 0.3, 0.2, 0.2, 0.2, 0.2, 0.2, 0.2, 0.2,
               0.2]

# panel -> (mean, err) per series
panel_data = [
    [(ubi_mock, ubi_mock_err), (ubi_y, ubi_y_err), (ubi_sy, ubi_sy_err)],
    [(kit_mock, kit_mock_err), (kit_y, kit_y_err), (kit_sy, kit_sy_err)],
    [(l101_mock, l101_mock_err), (l101_y, l101_y_err), (l101_sy, l101_sy_err)],
    [(l246_mock, l246_mock_err), (l246_y, l246_y_err), (l246_sy, l246_sy_err)],
    [(l711_mock, l711_mock_err), (l711_y, l711_y_err), (l711_sy, l711_sy_err)],
    [(l103_mock, l103_mock_err), (l103_y, l103_y_err), (l103_sy, l103_sy_err)],
    [(l247_mock, l247_mock_err), (l247_y, l247_y_err), (l247_sy, l247_sy_err)],
    [(l715_mock, l715_mock_err), (l715_y, l715_y_err), (l715_sy, l715_sy_err)],
]

# ---- style ----
sns.set_style('ticks')
plt.rcParams['font.family'] = ['Liberation Sans', 'DejaVu Sans']
plt.rcParams['mathtext.fontset'] = 'custom'
plt.rcParams['mathtext.rm'] = 'Liberation Sans'
plt.rcParams['mathtext.it'] = 'Liberation Sans:italic'

colors = {'Mock': '#4F81BD', 'RaxX21-Y': '#C0504D', 'RaxX21-sY': '#000000'}
markers = {'Mock': '+', 'RaxX21-Y': 's', 'RaxX21-sY': 'D'}
widths = {'Mock': 1.8, 'RaxX21-Y': 2.2, 'RaxX21-sY': 2.2}

W, H = 1079, 659
fig = plt.figure(figsize=(W / 100, H / 100), dpi=100)

# axes boxes in pixels: (left, top, width, height)
col_left = [72, 413, 759]
col_width = [285, 291, 291]
row_top = [29.5, 253.5, 469]
row_height = [150.5, 150.5, 151]
title_dx = [11, 16, 12]
title_dy = [11, 7, 11]
slots = [(0, 0), (0, 1), (1, 0), (1, 1), (1, 2), (2, 0), (2, 1), (2, 2)]

for idx, (r, c) in enumerate(slots):
    l, t, w, h = col_left[c], row_top[r], col_width[c], row_height[r]
    ax = fig.add_axes([l / W, 1 - (t + h) / H, w / W, h / H])

    # error bars first, then the mean lines
    for name, (mean, err) in zip(series_names, panel_data[idx]):
        ax.errorbar(minutes, mean, yerr=err, fmt='none', ecolor='#000000',
                    elinewidth=0.5, capsize=1.6, capthick=0.5, alpha=0.75,
                    zorder=2, clip_on=False)
    for k, (name, (mean, err)) in enumerate(zip(series_names, panel_data[idx])):
        df = pd.DataFrame({'Time': minutes, 'RLU': mean})
        sns.lineplot(data=df, x='Time', y='RLU', ax=ax, color=colors[name],
                     linewidth=widths[name], marker=markers[name],
                     markersize=2.5, markeredgewidth=0.8,
                     markeredgecolor=colors[name], label=name,
                     zorder=3 + k, clip_on=False)

    ax.set_xlim(0, 180)
    ax.set_ylim(0, 50)
    ax.set_xticks([0, 30, 60, 90, 120, 150, 180])
    ax.set_yticks([0, 10, 20, 30, 40, 50])
    ax.tick_params(axis='both', labelsize=10, length=3.6, width=0.8,
                   colors='black')
    ax.tick_params(axis='x', pad=2.2)
    ax.tick_params(axis='y', pad=5.5)
    sns.despine(ax=ax)
    for side in ['left', 'bottom']:
        ax.spines[side].set_linewidth(0.9)
        ax.spines[side].set_color('black')

    ax.set_xlabel('Time [min]', fontsize=12.5, labelpad=0)
    ax.set_ylabel('')
    if c == 0:
        ax.text(-47 / w, 0.62, 'RLU [×10³]', transform=ax.transAxes,
                rotation=90, ha='center', va='center', fontsize=12.5)

    ax.text(title_dx[c] / w, 1 + title_dy[r] / h, panel_titles[idx],
            transform=ax.transAxes, ha='left', va='center', fontsize=12.5)

    ax.legend(loc='upper left', bbox_to_anchor=(0.66, 1.045), frameon=False,
              fontsize=9.6, handlelength=1.3, handletextpad=0.05,
              labelspacing=0.5, borderpad=0.2, markerscale=1.0)

fig.savefig('out.png', dpi=100)
